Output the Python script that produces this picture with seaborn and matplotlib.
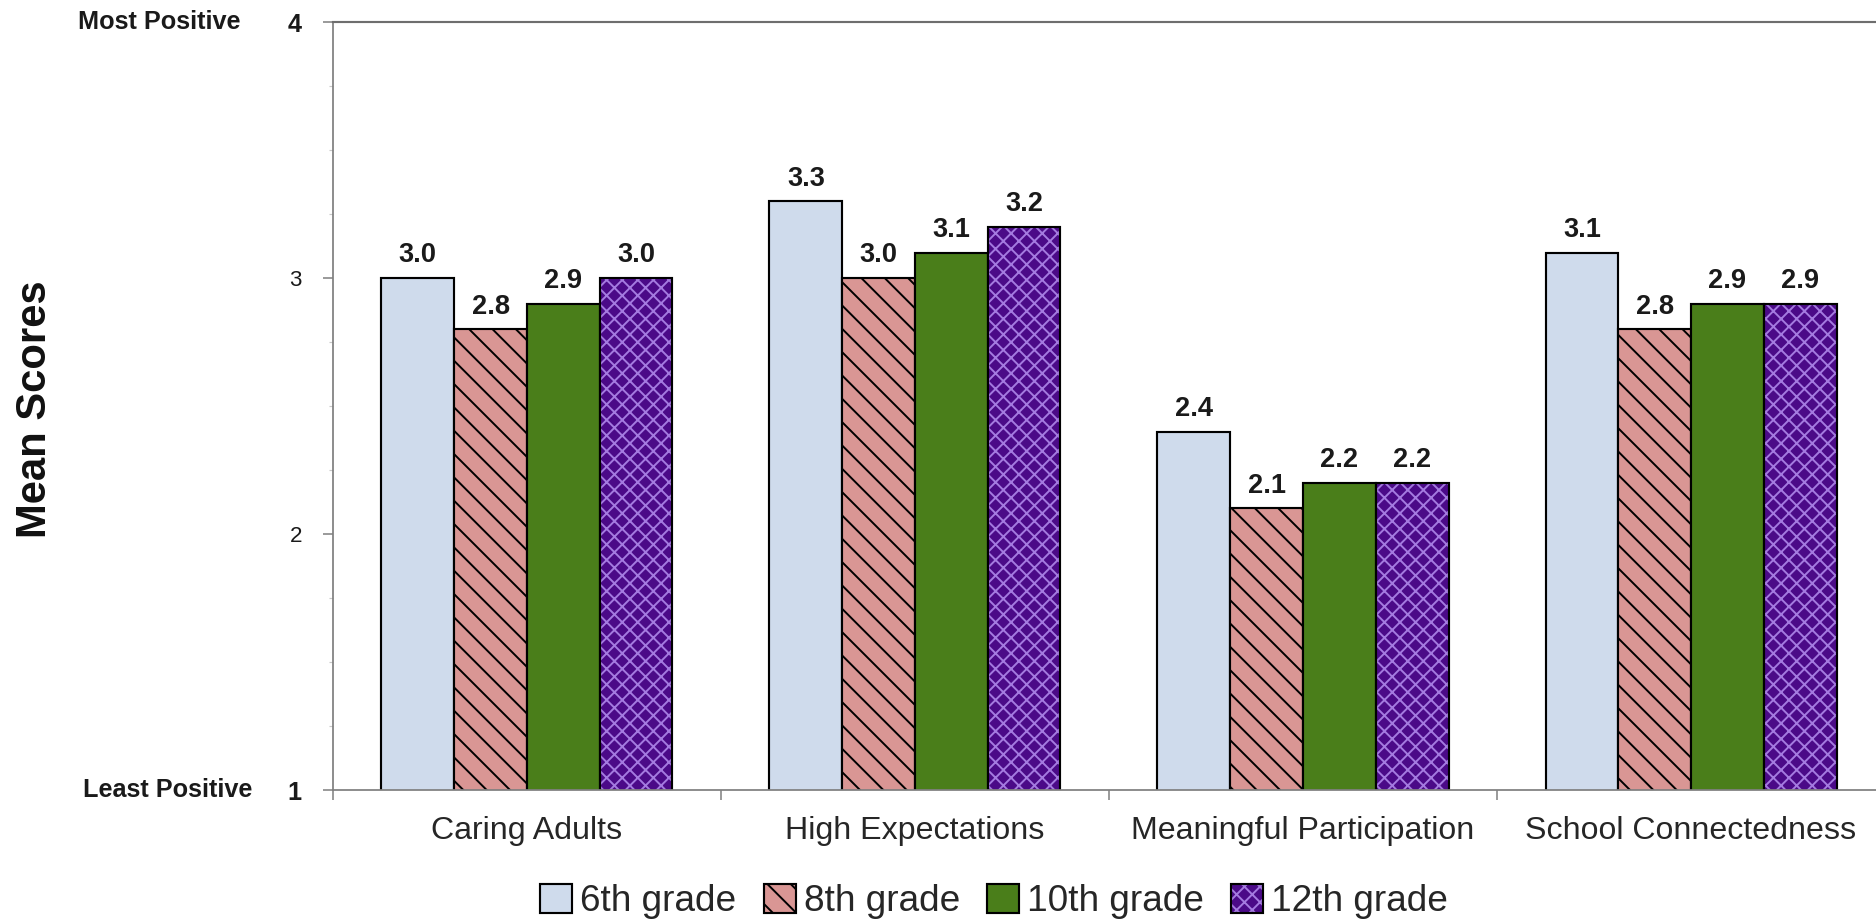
import numpy as np
import pandas as pd
import matplotlib
matplotlib.use("Agg")
import matplotlib.pyplot as plt
import matplotlib.transforms as mtransforms
import seaborn as sns

# data
categories = ["Caring Adults", "High Expectations", "Meaningful Participation", "School Connectedness"]
grades = ["6th grade", "8th grade", "10th grade", "12th grade"]
grade6 = [3.0, 3.3, 2.4, 3.1]
grade8 = [2.8, 3.0, 2.1, 2.8]
grade10 = [2.9, 3.1, 2.2, 2.9]
grade12 = [3.0, 3.2, 2.2, 2.9]
y_ticks = [1, 2, 3, 4]
end_labels = ["Least Positive", "Most Positive"]

colors = ["#CFDBEC", "#D99694", "#4A7E1A", "#4B0A88"]
hatches = ["", "\\\\", "", "xxx"]
hatch_colors = ["black", "black", "black", "#A47AE0"]

df = pd.DataFrame({
    "Scale": categories * len(grades),
    "Grade": np.repeat(grades, len(categories)),
    "Score": grade6 + grade8 + grade10 + grade12,
})

sns.set_theme(style="white")
plt.rcParams["font.family"] = ["Liberation Sans", "DejaVu Sans"]
plt.rcParams["hatch.linewidth"] = 1.0

fig = plt.figure(figsize=(13.4, 6.6), dpi=140)
ax = fig.add_axes([0.1775, 0.145, 0.8273, 0.831])

sns.barplot(data=df, x="Scale", y="Score", hue="Grade", order=categories, hue_order=grades,
            palette=colors, width=0.75, saturation=1, edgecolor="black", linewidth=1.1,
            legend=False, ax=ax)

# hatches, hatch colours and value labels per grade
for cont, h, hc in zip(ax.containers, hatches, hatch_colors):
    for p in cont.patches:
        p.set_hatch(h)
        if hasattr(p, "set_hatchcolor"):
            p.set_hatchcolor(hc)
        else:
            p._hatch_color = matplotlib.colors.to_rgba(hc)
    ax.bar_label(cont, fmt="%.1f", padding=5, fontsize=14, fontweight="bold", color="#1a1a1a")

ax.set_xlim(-0.5, 3.5)
ax.set_ylim(1, 4)
ax.set_xlabel("")

# y axis
ax.set_yticks(y_ticks)
ax.set_yticks(np.arange(1, 4.01, 0.25), minor=True)
ax.tick_params(axis="y", which="both", left=True, direction="out")
ax.tick_params(axis="y", which="major", length=5, width=0.8, color="#808080", pad=11,
               labelsize=11.5, labelcolor="#1a1a1a")
ax.tick_params(axis="y", which="minor", length=2, width=0.6, color="#c8c8c8")
for lbl in ax.get_yticklabels():
    if lbl.get_text() in ("1", "4"):
        lbl.set_fontweight("bold")
        lbl.set_fontsize(13)

# x axis: labels at centres, ticks at group boundaries
ax.set_xticks(range(len(categories)))
ax.set_xticklabels(categories)
ax.set_xticks(np.arange(-0.5, 3.6, 1), minor=True)
ax.tick_params(axis="x", which="both", bottom=True, direction="out")
ax.tick_params(axis="x", which="major", length=0, pad=13.5, labelsize=16.5, labelcolor="#262626")
ax.tick_params(axis="x", which="minor", length=5, width=0.8, color="#808080")

ax.spines["right"].set_visible(False)
ax.spines["left"].set_color("#808080")
ax.spines["left"].set_linewidth(0.9)
ax.spines["bottom"].set_color("#808080")
ax.spines["bottom"].set_linewidth(0.9)
ax.spines["top"].set_color("#6e6e6e")
ax.spines["top"].set_linewidth(1.1)

# "Least Positive" / "Most Positive" next to the end ticks
blend = mtransforms.blended_transform_factory(fig.transFigure, ax.transData)
ax.text(252 / 1876, y_ticks[0], end_labels[0], transform=blend, ha="right", va="center",
        fontsize=13, fontweight="bold", color="#1a1a1a")
ax.text(240 / 1876, y_ticks[-1], end_labels[1], transform=blend, ha="right", va="center",
        fontsize=13, fontweight="bold", color="#1a1a1a")

ax.set_ylabel("Mean Scores", fontsize=21.5, fontweight="bold", color="#111111", va="center")
ax.yaxis.set_label_coords(35 / 1876, 1 - 409 / 924, transform=fig.transFigure)

handles = [c.patches[0] for c in ax.containers]
fig.legend(handles, grades, loc="center", bbox_to_anchor=(0.53, 0.024), ncol=4, frameon=False,
           fontsize=19, handlelength=0.87, handleheight=0.8, handletextpad=0.22,
           columnspacing=0.73, labelcolor="#262626")

fig.savefig("out.png", dpi=140)
